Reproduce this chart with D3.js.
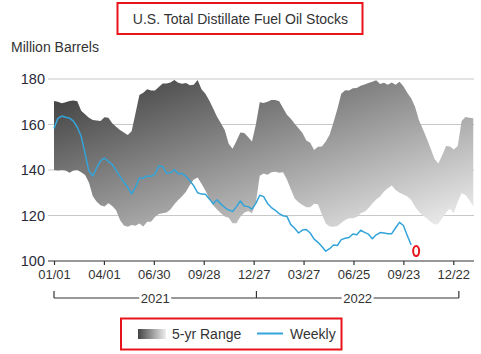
<!DOCTYPE html>
<html>
<head>
<meta charset="utf-8">
<script src="https://cdn.jsdelivr.net/npm/d3@7"></script>
<style>
  html, body { margin: 0; padding: 0; background: #fff; }
  svg { display: block; font-family: "Liberation Sans", Arial, sans-serif; }
</style>
</head>
<body>
<div id="chart"></div>
<script>
// weekly values, first week 01/01/2021
var rangeHigh = [170.3, 170, 169.3, 169.8, 170.3, 170.5, 170.2, 166, 164.5, 163, 162, 161.8, 161.5, 163.2, 163, 160.5,
    159, 157.6, 156.5, 155.4, 157, 165, 173, 174, 175.5, 174.9, 174.9, 176.5, 178, 178, 178.5, 179.6, 178.3, 177.9,
    178.2, 177.3, 177.5, 179.6, 175.5, 173.5, 170.5, 167, 163.4, 160.5, 157.5, 151.5, 149.3, 152.8, 156.5, 156.3,
    154.5, 152.5, 160, 169.8, 169.5, 170, 170.8, 170.8, 170.2, 167.3, 164.3, 162.5, 160.3, 158.4, 156.3, 153, 152,
    148.8, 150.2, 150.3, 152.5, 155.5, 161, 166.8, 173.5, 175.1, 174.9, 175.9, 176, 177, 177.6, 178.2, 178.8, 179.5,
    177.8, 178.3, 177.5, 178.5, 177.5, 178.8, 176.8, 174, 171.5, 167.8, 162, 158, 154, 149.6, 145, 142.9, 146.5,
    150.5, 150.3, 149, 150.5, 161.5, 163.3, 163, 162.7];

var rangeLow = [140, 139.8, 140, 139.8, 138.8, 139.8, 140, 139, 137.8, 134.5, 128.5, 126, 124.5, 124, 125.4, 124.2,
    122.3, 118, 115.6, 115.1, 115.8, 115.5, 116.5, 115.2, 117.3, 117.3, 119.3, 120.7, 121, 121.3, 122.6, 125, 126.8,
    128.5, 130.4, 133.4, 135.8, 136.7, 134, 131, 127.4, 124.5, 122.6, 121, 119.6, 119, 116.6, 116.6, 119.5, 121.2,
    122, 121, 125.5, 137.5, 138.5, 137.9, 139, 139.2, 138.8, 139, 135.8, 131.5, 127.5, 125.8, 124.6, 123.6, 123.6,
    125.2, 125, 120.5, 116.5, 115.2, 115.1, 115.4, 116.7, 118, 118.8, 118.8, 119.3, 121, 121.7, 123.2, 125.3, 127,
    128.3, 130.5, 132, 133.2, 131.2, 130, 129.2, 128.3, 126.8, 123.9, 121.6, 120, 118.8, 117.2, 116, 116.3, 118.8,
    121.3, 123, 121, 126, 129.8, 129, 126.8, 124];

var weekly = [158.3, 162.7, 163.7, 163.2, 162.8, 161.5, 158.8, 154.8, 147.3, 139.5, 137.4, 141, 144, 145.3, 143.8,
    142.4, 139.8, 137.2, 134.6, 132.4, 129.5, 132.5, 136.5, 136.4, 137.4, 137.2, 138.2, 141.8, 141.5, 138.6, 138.8,
    140.2, 138.3, 138.5, 137.2, 135.3, 133, 130, 129.4, 129.3, 127.3, 125.2, 126.9, 125, 123.5, 122.4, 121.8, 123.9,
    126.4, 124.2, 123.9, 122.8, 125.3, 128.9, 128.3, 125.3, 123.5, 122.3, 120.8, 119.9, 119.6, 116, 114.4, 112.3,
    113.6, 113.8, 112.3, 109.6, 108.2, 106.4, 104.3, 105.4, 107, 106.8, 109.4, 110, 110.3, 111.9, 111.5, 113.5, 112.6,
    111.8, 109.8, 111.5, 112.5, 112.3, 112, 112, 114.6, 117, 115.6, 111.2, 107];

var yTicks = [100, 120, 140, 160, 180];
var xTickDates = ["2021-01-01", "2021-04-01", "2021-06-30", "2021-09-28", "2021-12-27",
    "2022-03-27", "2022-06-25", "2022-09-23", "2022-12-22"];
var years = ["2021", "2022"];

var width = 481, height = 354;
var parse = d3.utcParse("%Y-%m-%d");
var start = parse("2021-01-01");
var weekDate = function(i) { return d3.utcDay.offset(start, 7 * i); };

var x = d3.scaleUtc()
    .domain([start, parse("2022-12-22")])
    .range([54, 453.3]);
var y = d3.scaleLinear()
    .domain([100, 180])
    .range([261, 79]);

var svg = d3.select("#chart").append("svg")
    .attr("width", width)
    .attr("height", height);

var defs = svg.append("defs");
var bandGrad = defs.append("linearGradient")
    .attr("id", "band-grad")
    .attr("x1", 0).attr("y1", 0).attr("x2", 1).attr("y2", 1);
bandGrad.append("stop").attr("offset", "0%").attr("stop-color", "#383838");
bandGrad.append("stop").attr("offset", "100%").attr("stop-color", "#f2f2f2");

var swatchGrad = defs.append("linearGradient")
    .attr("id", "swatch-grad")
    .attr("x1", 0).attr("y1", 0).attr("x2", 1).attr("y2", 0);
swatchGrad.append("stop").attr("offset", "0%").attr("stop-color", "#444");
swatchGrad.append("stop").attr("offset", "100%").attr("stop-color", "#eee");

// title
svg.append("rect")
    .attr("x", 117.5).attr("y", 3)
    .attr("width", 245).attr("height", 31)
    .attr("fill", "none").attr("stroke", "#e8141c").attr("stroke-width", 2);
svg.append("text")
    .attr("x", 240.5).attr("y", 24)
    .attr("text-anchor", "middle")
    .style("font-size", "14px").style("fill", "#333")
    .text("U.S. Total Distillate Fuel Oil Stocks");

svg.append("text")
    .attr("x", 11).attr("y", 52)
    .style("font-size", "14px").style("fill", "#333")
    .text("Million Barrels");

// gridlines
svg.append("g")
    .selectAll("line")
    .data(yTicks.filter(function(d) { return d > 100; }))
    .enter().append("line")
    .attr("x1", 48).attr("x2", 474)
    .attr("y1", function(d) { return y(d); })
    .attr("y2", function(d) { return y(d); })
    .attr("stroke", "#c8c8c8").attr("stroke-width", 1);

var yAxis = d3.axisLeft(y)
    .tickValues(yTicks)
    .tickSize(0)
    .tickPadding(3);
svg.append("g")
    .attr("transform", "translate(48,0)")
    .call(yAxis)
    .call(function(g) { g.select(".domain").remove(); })
    .selectAll("text")
    .style("font-size", "14.5px")
    .style("fill", "#2a2a3a")
    .style("font-family", "'Liberation Sans', Arial, sans-serif");

// 5-yr range band
var area = d3.area()
    .x(function(d, i) { return x(weekDate(i)); })
    .y0(function(d, i) { return y(rangeLow[i]); })
    .y1(function(d) { return y(d); });
svg.append("path")
    .datum(rangeHigh)
    .attr("d", area)
    .attr("fill", "url(#band-grad)");

// weekly line
var line = d3.line()
    .x(function(d, i) { return x(weekDate(i)); })
    .y(function(d) { return y(d); });
svg.append("path")
    .datum(weekly)
    .attr("d", line)
    .attr("fill", "none")
    .attr("stroke", "#33a4da")
    .attr("stroke-width", 1.5)
    .attr("stroke-linejoin", "round");

// highlight last point
var lastIdx = weekly.length - 1;
svg.append("ellipse")
    .attr("cx", x(weekDate(lastIdx)) + 5)
    .attr("cy", y(weekly[lastIdx]) + 6)
    .attr("rx", 3).attr("ry", 5)
    .attr("fill", "none").attr("stroke", "#e8141c").attr("stroke-width", 2);

// x axis
var xAxis = d3.axisBottom(x)
    .tickValues(xTickDates.map(parse))
    .tickFormat(d3.utcFormat("%m/%d"))
    .tickSizeInner(4)
    .tickSizeOuter(0)
    .tickPadding(5);
var xg = svg.append("g")
    .attr("transform", "translate(0,261)")
    .call(xAxis);
xg.select(".domain").remove();
xg.append("line")
    .attr("x1", 48).attr("x2", 474)
    .attr("stroke", "#333").attr("stroke-width", 1.2);
xg.selectAll(".tick line").attr("stroke", "#333").attr("stroke-width", 1.2);
xg.selectAll("text")
    .style("font-size", "13px")
    .style("fill", "#333")
    .style("font-family", "'Liberation Sans', Arial, sans-serif");

// year brackets
var yearBounds = ["2021-01-01", "2022-01-01", "2023-01-01"].map(parse);
var by = 298;
var bg = svg.append("g").attr("stroke", "#333").attr("stroke-width", 1.2);
bg.append("line")
    .attr("x1", x(yearBounds[0])).attr("x2", x(yearBounds[2]))
    .attr("y1", by).attr("y2", by);
bg.selectAll(".yt")
    .data(yearBounds)
    .enter().append("line")
    .attr("class", "yt")
    .attr("x1", function(d) { return x(d); })
    .attr("x2", function(d) { return x(d); })
    .attr("y1", by - 7).attr("y2", by);
var yl = svg.append("g").selectAll("g")
    .data(years)
    .enter().append("g")
    .attr("transform", function(d, i) {
        var cx = (x(yearBounds[i]) + x(yearBounds[i + 1])) / 2;
        return "translate(" + cx + "," + by + ")";
    });
yl.append("rect")
    .attr("x", -16).attr("y", -7).attr("width", 32).attr("height", 14)
    .attr("fill", "#fff");
yl.append("text")
    .attr("text-anchor", "middle")
    .attr("y", 5)
    .style("font-size", "13px").style("fill", "#333")
    .text(function(d) { return d; });

// legend
svg.append("rect")
    .attr("x", 121).attr("y", 318.5)
    .attr("width", 220.5).attr("height", 31)
    .attr("fill", "none").attr("stroke", "#e8141c").attr("stroke-width", 2);
svg.append("rect")
    .attr("x", 138).attr("y", 329)
    .attr("width", 28).attr("height", 10)
    .attr("fill", "url(#swatch-grad)");
svg.append("text")
    .attr("x", 172).attr("y", 339)
    .style("font-size", "14px").style("fill", "#333")
    .text("5-yr Range");
svg.append("line")
    .attr("x1", 257).attr("x2", 283)
    .attr("y1", 333.5).attr("y2", 333.5)
    .attr("stroke", "#33a4da").attr("stroke-width", 2);
svg.append("text")
    .attr("x", 290).attr("y", 339)
    .style("font-size", "14px").style("fill", "#333")
    .text("Weekly");
</script>
</body>
</html>
